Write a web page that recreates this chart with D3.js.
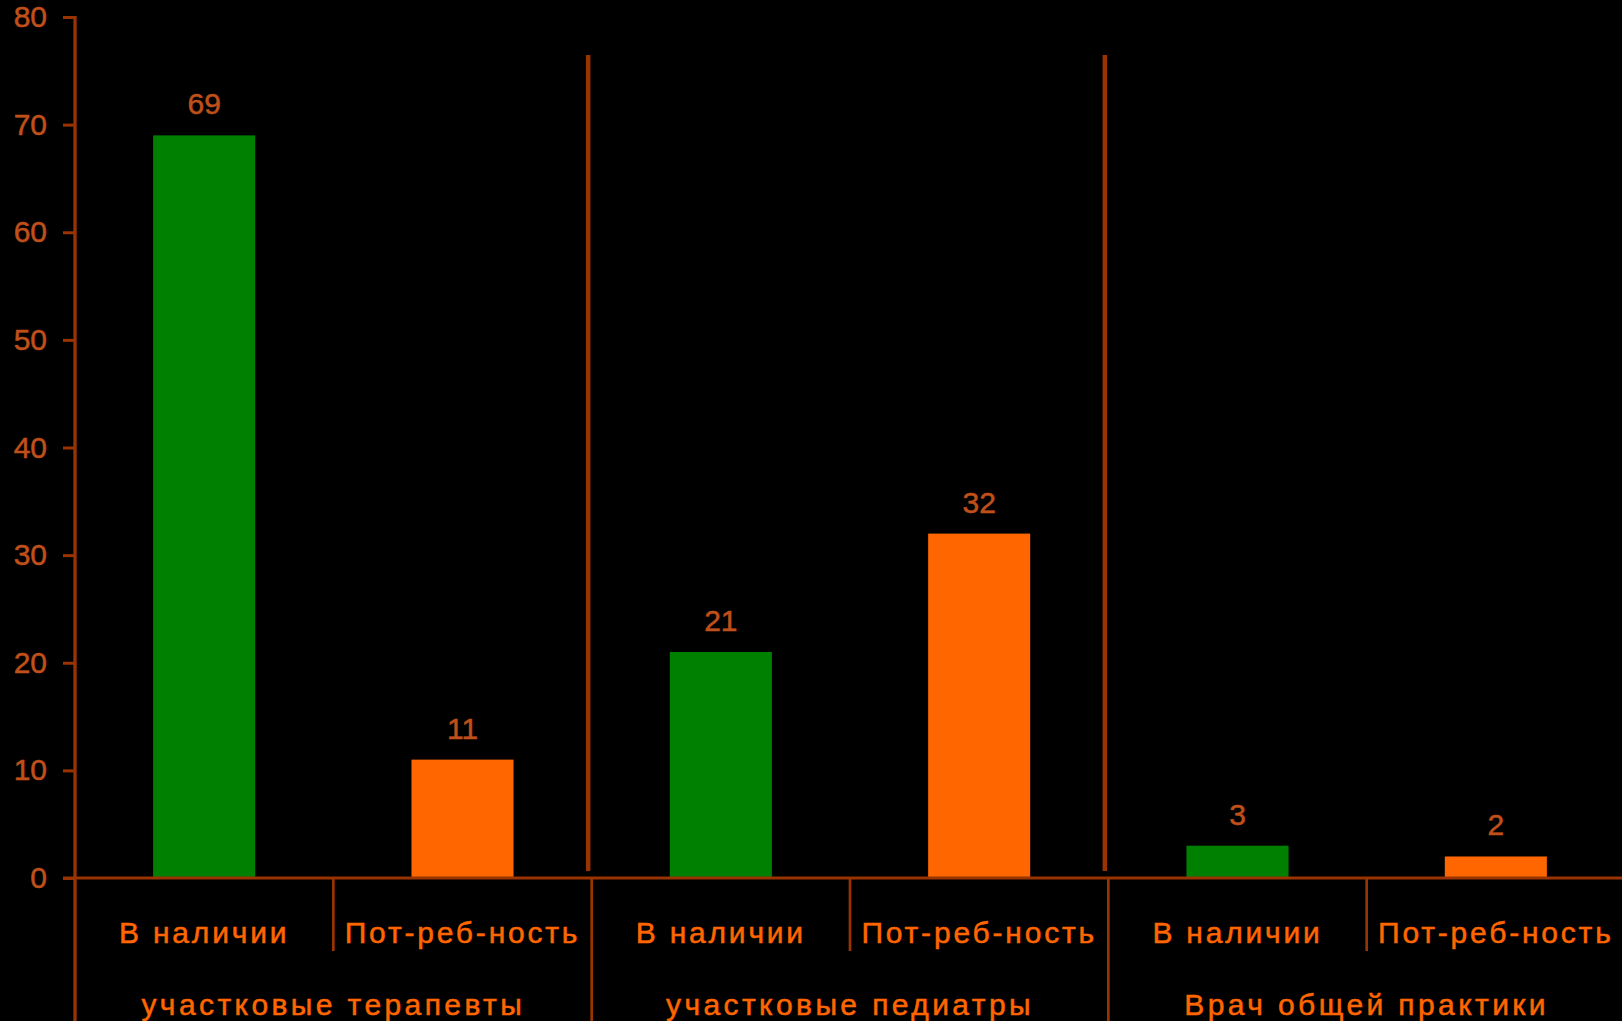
<!DOCTYPE html>
<html>
<head>
<meta charset="utf-8">
<script src="https://cdn.jsdelivr.net/npm/d3@7"></script>
<style>
  html, body { margin: 0; padding: 0; background: #000; }
  svg { display: block; }
  text { font-family: "Liberation Sans", Arial, sans-serif; }
</style>
</head>
<body>
<svg id="chart" width="1622" height="1021"></svg>
<script>
// ---- data ----
const groups = ["участковые терапевты", "участковые педиатры", "Врач общей практики"];
const subcategories = ["В наличии", "Пот-реб-ность"];
const availableValues = [69, 21, 3];
const needValues = [11, 32, 2];
const yTicks = [0, 10, 20, 30, 40, 50, 60, 70, 80];
const seriesColors = ["#008000", "#ff6600"];

// ---- layout ----
const W = 1622, H = 1021;
const x0 = 75, x1 = 1625;
const yBottom = 878, yTop = 17;
const axisColor = "#993300";
const tickColor = "#c0501a";
const catColor = "#ff6600";

const svg = d3.select("#chart");
svg.append("rect").attr("width", W).attr("height", H).attr("fill", "#000");

// build flat table from arrays
const rows = [];
groups.forEach((g, gi) => {
  rows.push({ key: gi + "-0", group: g, sub: subcategories[0], value: availableValues[gi], s: 0 });
  rows.push({ key: gi + "-1", group: g, sub: subcategories[1], value: needValues[gi], s: 1 });
});

const xGroup = d3.scaleBand().domain(groups).range([x0, x1]).padding(0);
const xSub = d3.scaleBand().domain(rows.map(r => r.key)).range([x0, x1]).padding(0);
const y = d3.scaleLinear().domain([0, 80]).range([yBottom, yTop]);

const barW = xSub.bandwidth() * 0.395;

// upper group separators (between groups, above axis)
svg.append("g").selectAll("line")
  .data(groups.slice(1))
  .join("line")
  .attr("x1", d => xGroup(d) - 3.5)
  .attr("x2", d => xGroup(d) - 3.5)
  .attr("y1", 55)
  .attr("y2", 871)
  .attr("stroke", axisColor)
  .attr("stroke-width", 4.5);

// bars
svg.append("g").selectAll("rect")
  .data(rows)
  .join("rect")
  .attr("x", d => xSub(d.key) + xSub.bandwidth() / 2 - barW / 2)
  .attr("width", barW)
  .attr("y", d => y(d.value))
  .attr("height", d => y(0) - y(d.value))
  .attr("fill", d => seriesColors[d.s]);

// value labels
svg.append("g").selectAll("text")
  .data(rows)
  .join("text")
  .attr("x", d => xSub(d.key) + xSub.bandwidth() / 2)
  .attr("y", d => y(d.value) - 21)
  .attr("text-anchor", "middle")
  .attr("font-size", 30)
  .attr("fill", tickColor)
  .attr("stroke", tickColor)
  .attr("stroke-width", 0.5)
  .text(d => d.value);

// y axis
const yAxis = d3.axisLeft(y).tickValues(yTicks).tickSize(12).tickPadding(16);
const gy = svg.append("g").attr("transform", `translate(${x0},0)`).call(yAxis);
gy.select(".domain").remove();
gy.selectAll(".tick line").attr("stroke", axisColor).attr("stroke-width", 3);
gy.selectAll(".tick text")
  .attr("font-size", 30)
  .attr("font-family", "'Liberation Sans', Arial, sans-serif")
  .attr("fill", tickColor)
  .attr("stroke", tickColor)
  .attr("stroke-width", 0.5);
// y axis line extending through the label area
svg.append("line")
  .attr("x1", x0).attr("x2", x0)
  .attr("y1", yTop - 1).attr("y2", H)
  .attr("stroke", axisColor).attr("stroke-width", 3.3);

// x axis line
svg.append("line")
  .attr("x1", x0 - 12).attr("x2", W)
  .attr("y1", y(0)).attr("y2", y(0))
  .attr("stroke", axisColor).attr("stroke-width", 3);

// sub-category separators below axis
svg.append("g").selectAll("line")
  .data(groups)
  .join("line")
  .attr("x1", d => xGroup(d) + xGroup.bandwidth() / 2)
  .attr("x2", d => xGroup(d) + xGroup.bandwidth() / 2)
  .attr("y1", y(0))
  .attr("y2", 951)
  .attr("stroke", axisColor)
  .attr("stroke-width", 2.7);

// group separators below axis
svg.append("g").selectAll("line")
  .data(groups.slice(1))
  .join("line")
  .attr("x1", d => xGroup(d))
  .attr("x2", d => xGroup(d))
  .attr("y1", y(0))
  .attr("y2", H)
  .attr("stroke", axisColor)
  .attr("stroke-width", 2.7);

// sub-category labels
svg.append("g").selectAll("text")
  .data(rows)
  .join("text")
  .attr("x", d => xSub(d.key) + xSub.bandwidth() / 2)
  .attr("y", 943)
  .attr("text-anchor", "middle")
  .attr("font-size", 30)
  .attr("letter-spacing", 2.8)
  .attr("fill", catColor)
  .attr("stroke", catColor)
  .attr("stroke-width", 0.5)
  .text(d => d.sub);

// group labels
svg.append("g").selectAll("text")
  .data(groups)
  .join("text")
  .attr("x", d => xGroup(d) + xGroup.bandwidth() / 2)
  .attr("y", 1015)
  .attr("text-anchor", "middle")
  .attr("font-size", 30)
  .attr("letter-spacing", 3.4)
  .attr("fill", catColor)
  .attr("stroke", catColor)
  .attr("stroke-width", 0.5)
  .text(d => d);
</script>
</body>
</html>
